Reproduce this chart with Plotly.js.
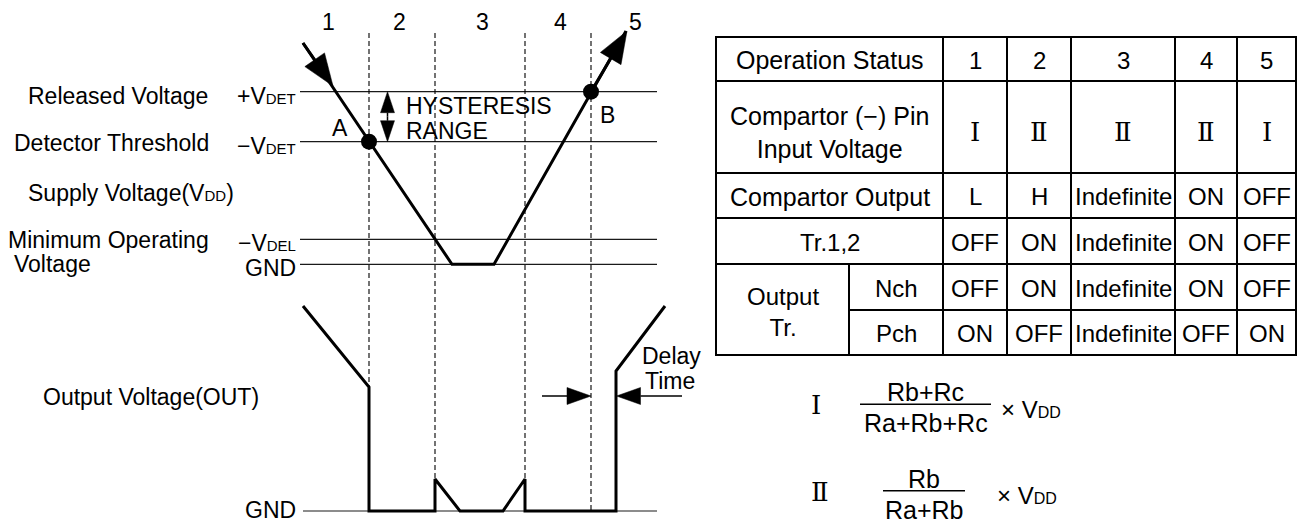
<!DOCTYPE html>
<html><head><meta charset="utf-8">
<script src="https://cdn.plot.ly/plotly-3.0.1.min.js"></script>
<style>html,body{margin:0;padding:0;background:#fff;overflow:hidden}#chart{width:1298px;height:524px}</style>
</head><body><div id="chart"></div>
<script>
// ---------------- data ----------------
const phaseLabels = ['1', '2', '3', '4', '5'];
const phaseLabelX = [328, 399, 482, 560, 635];
const boundaryX = [369, 435, 525, 591];

const levelSymbols = ['+V<span style="font-size:15px">DET</span>', '−V<span style="font-size:15px">DET</span>',
                      '−V<span style="font-size:15px">DEL</span>', 'GND'];
const levelY = [91.7, 141.7, 239.3, 264.3];
const sideLabels = ['Released Voltage', 'Detector Threshold', 'Supply Voltage(V<span style="font-size:15px">DD</span>)',
                    'Minimum Operating', 'Voltage', 'Output Voltage(OUT)'];
const sideLabelX = [27, 13, 27, 7, 13, 42];
const sideLabelY = [96, 143, 193, 240, 264, 397];

// supply voltage waveform (time, level)
const inputT = [303, 452, 494, 626];
const inputV = [43, 264.3, 264.3, 31];
const startArrowT = [303, 333];
const startArrowV = [43, 86];
const endArrowT = [591, 627];
const endArrowV = [91.7, 31];
const pointNames = ['A', 'B'];
const pointT = [369, 591];
const pointV = [141.7, 91.7];

// output voltage waveform
const outputT = [303, 369, 369, 435, 435, 460, 503, 525, 525, 616, 616, 665];
const outputV = [306, 387, 511, 511, 479, 511, 511, 479, 511, 511, 371, 306];
const outGndY = 511;

// table
const tableHeader = ['Operation Status', '1', '2', '3', '4', '5'];
const rowLabels = ['Compartor (−) Pin<br>Input Voltage', 'Compartor Output', 'Tr.1,2', 'Nch', 'Pch'];
const groupLabel = 'Output<br>Tr.';
const pinInput = ['Ⅰ', 'Ⅱ', 'Ⅱ', 'Ⅱ', 'Ⅰ'];
const compOutput = ['L', 'H', 'Indefinite', 'ON', 'OFF'];
const tr12 = ['OFF', 'ON', 'Indefinite', 'ON', 'OFF'];
const nch = ['OFF', 'ON', 'Indefinite', 'ON', 'OFF'];
const pch = ['ON', 'OFF', 'Indefinite', 'OFF', 'ON'];

// formulas
const formulaTags = ['Ⅰ', 'Ⅱ'];
const formulaNums = ['Rb+Rc', 'Rb'];
const formulaDens = ['Ra+Rb+Rc', 'Ra+Rb'];

// ---------------- layout constants ----------------
const colEdges = [716, 849, 943, 1007, 1071, 1175, 1237, 1296];
const rowEdges = [37, 81, 173, 218, 264, 310, 355];
const FONT = 'Liberation Sans, Arial, sans-serif';
const SERIF = 'DejaVu Serif, Liberation Serif, serif';
const INK = '#000';

const traces = [];
const shapes = [];
const annotations = [];

function ann(text, x, y, o) {
  o = o || {};
  annotations.push({
    text: text, x: x, y: y, xref: 'x', yref: 'y', showarrow: false,
    xanchor: o.xa || 'center', yanchor: 'middle', align: o.align || 'center',
    font: {family: o.family || FONT, size: o.size || 23, color: o.color || INK}, borderpad: 0
  });
}
function hline(x0, x1, y, w, color) {
  shapes.push({type: 'line', xref: 'x', yref: 'y', x0: x0, x1: x1, y0: y, y1: y, line: {color: color || INK, width: w}});
}
function vline(x, y0, y1, w, color) {
  shapes.push({type: 'line', xref: 'x', yref: 'y', x0: x, x1: x, y0: y0, y1: y1, line: {color: color || INK, width: w}});
}
// arrow: shaft from tail to the head base, plus a filled triangular head ending at the tip
function arrow(xs, ys, headLen, headWid, lineW) {
  const dx = xs[1] - xs[0], dy = ys[1] - ys[0];
  const d = Math.sqrt(dx * dx + dy * dy), ux = dx / d, uy = dy / d;
  const bx = xs[1] - ux * headLen, by = ys[1] - uy * headLen;
  const nx = -uy * headWid / 2, ny = ux * headWid / 2;
  traces.push({x: [xs[0], bx], y: [ys[0], by], mode: 'lines', line: {color: INK, width: lineW}, hoverinfo: 'skip'});
  traces.push({x: [xs[1], bx + nx, bx - nx, xs[1]], y: [ys[1], by + ny, by - ny, ys[1]], mode: 'lines',
    fill: 'toself', fillcolor: INK, line: {color: INK, width: 0.5}, hoverinfo: 'skip'});
}

// level lines
levelY.forEach(function (y, i) {
  traces.push({x: [300, 657], y: [y, y], mode: 'lines', line: {color: '#1a1a1a', width: 1.2}, hoverinfo: 'skip'});
  ann(levelSymbols[i], 297, y + 4, {xa: 'right'});
});
// bottom GND line
traces.push({x: [303, 657], y: [outGndY, outGndY], mode: 'lines', line: {color: '#1a1a1a', width: 1.2}, hoverinfo: 'skip'});
ann('GND', 297, 510, {xa: 'right'});

// dashed phase boundaries
boundaryX.forEach(function (x) {
  traces.push({x: [x, x], y: [33, outGndY], mode: 'lines', line: {color: INK, width: 1.1, dash: '5px,3px'}, hoverinfo: 'skip'});
});
phaseLabels.forEach(function (t, i) { ann(t, phaseLabelX[i], 22); });

// side labels
sideLabels.forEach(function (t, i) { ann(t, sideLabelX[i], sideLabelY[i], {xa: 'left'}); });

// input waveform
traces.push({x: inputT, y: inputV, mode: 'lines', line: {color: INK, width: 3}, hoverinfo: 'skip'});
arrow(startArrowT, startArrowV, 32, 24, 3);
arrow(endArrowT, endArrowV, 32, 24, 3);
traces.push({x: pointT, y: pointV, mode: 'markers', marker: {symbol: 'circle', size: 16, color: INK}, hoverinfo: 'skip'});
ann(pointNames[0], 340, 128);
ann(pointNames[1], 607, 115);

// hysteresis range double arrow
const hysX = 387.5, hysMid = (levelY[0] + levelY[1]) / 2;
arrow([hysX, hysX], [hysMid, levelY[0]], 21, 14, 1.5);
arrow([hysX, hysX], [hysMid, levelY[1]], 21, 14, 1.5);
ann('HYSTERESIS', 405, 106, {xa: 'left'});
ann('RANGE', 405, 131, {xa: 'left'});

// output waveform
traces.push({x: outputT, y: outputV, mode: 'lines', line: {color: INK, width: 3}, hoverinfo: 'skip'});
// delay time arrows
arrow([542, boundaryX[3]], [396, 396], 24, 17, 1.5);
arrow([682, 616.5], [396, 396], 24, 17, 1.5);
ann('Delay', 641, 356, {xa: 'left'});
ann('Time', 644, 381, {xa: 'left'});

// ---------------- table ----------------
const TW = 2;
[0, 1, 2, 3, 4, 6].forEach(function (r) { hline(colEdges[0] - 1, colEdges[7] + 1, rowEdges[r], TW); });
hline(colEdges[1], colEdges[7] + 1, rowEdges[5], TW);
[0, 2, 3, 4, 5, 6, 7].forEach(function (c) { vline(colEdges[c], rowEdges[0], rowEdges[6], TW); });
vline(colEdges[1], rowEdges[4], rowEdges[6], TW);

const TF = 24;
function mid(a, b) { return (a + b) / 2; }
const colCenters = [2, 3, 4, 5, 6].map(function (c) { return mid(colEdges[c], colEdges[c + 1]); });
const labelCenterX = mid(colEdges[0], colEdges[2]);
ann(tableHeader[0], labelCenterX, mid(rowEdges[0], rowEdges[1]) + 1, {size: 25});
tableHeader.slice(1).forEach(function (t, i) { ann(t, colCenters[i], mid(rowEdges[0], rowEdges[1]) + 1, {size: TF}); });
ann(rowLabels[0], labelCenterX, mid(rowEdges[1], rowEdges[2]) + 5, {size: 25});
ann(rowLabels[1], labelCenterX, mid(rowEdges[2], rowEdges[3]) + 1, {size: 25});
ann(rowLabels[2], labelCenterX, mid(rowEdges[3], rowEdges[4]) + 1, {size: TF});
ann(groupLabel, mid(colEdges[0], colEdges[1]), mid(rowEdges[4], rowEdges[6]) + 2, {size: TF});
ann(rowLabels[3], mid(colEdges[1], colEdges[2]), mid(rowEdges[4], rowEdges[5]) + 1, {size: TF});
ann(rowLabels[4], mid(colEdges[1], colEdges[2]), mid(rowEdges[5], rowEdges[6]) + 1, {size: TF});
[[pinInput, 1], [compOutput, 2], [tr12, 3], [nch, 4], [pch, 5]].forEach(function (pair) {
  const vals = pair[0], r = pair[1];
  vals.forEach(function (v, i) {
    const isRoman = (r === 1);
    ann(v, colCenters[i], mid(rowEdges[r], rowEdges[r + 1]) + (isRoman ? 5 : 1),
        {size: isRoman ? 26 : TF, family: isRoman ? SERIF : FONT, color: INK});
  });
});

// ---------------- formulas ----------------
const fracCx = [925.5, 924];
const fracBarX0 = [860, 883];
const fracBarX1 = [991, 965];
const fracBarY = [404.3, 490.7];
const tagX = [816, 819.5];
const timesX = [1000, 996];
formulaTags.forEach(function (t, i) {
  ann(t, tagX[i], fracBarY[i] + 1, {size: 26, family: SERIF, color: INK});
  ann(formulaNums[i], fracCx[i], fracBarY[i] - 12, {size: 25});
  ann(formulaDens[i], fracCx[i], fracBarY[i] + 19, {size: 25});
  hline(fracBarX0[i], fracBarX1[i], fracBarY[i], 1.5);
  ann('× V<span style="font-size:16px">DD</span>', timesX[i], fracBarY[i] + 5, {xa: 'left', size: 24});
});

const layout = {
  width: 1298, height: 524,
  margin: {l: 0, r: 0, t: 0, b: 0, pad: 0},
  paper_bgcolor: '#fff', plot_bgcolor: '#fff',
  showlegend: false,
  xaxis: {range: [0, 1298], visible: false, fixedrange: true},
  yaxis: {range: [524, 0], visible: false, fixedrange: true},
  shapes: shapes, annotations: annotations
};
Plotly.newPlot('chart', traces, layout, {displayModeBar: false, staticPlot: true});
</script></body></html>
